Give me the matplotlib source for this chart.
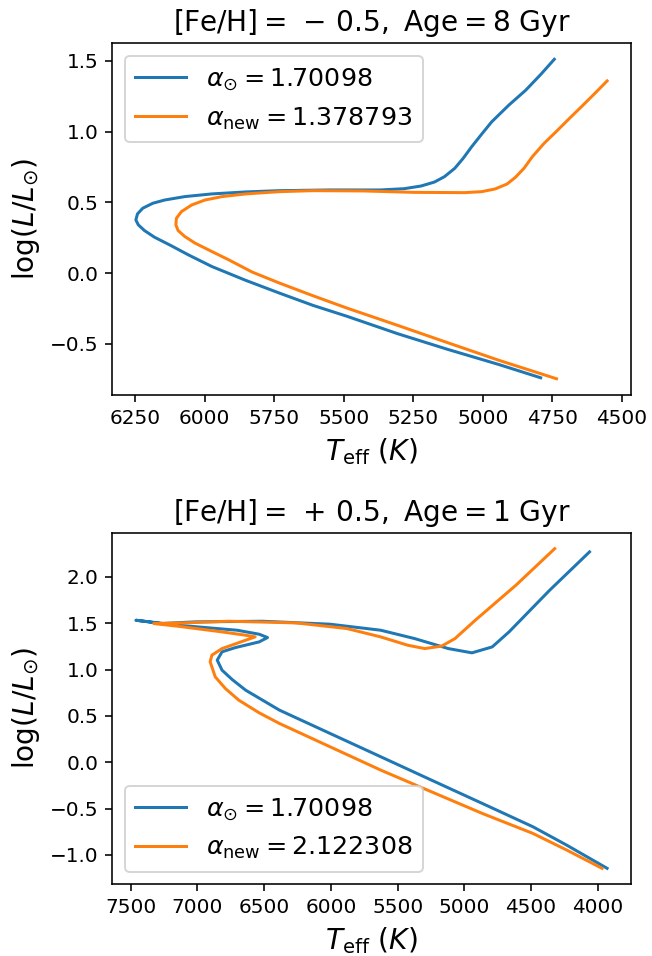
import matplotlib
matplotlib.use("Agg")
import matplotlib.pyplot as plt
from matplotlib.ticker import MultipleLocator

# ---- data: top panel ([Fe/H] = -0.5, Age = 8 Gyr) ----
top_sun_teff = [4792, 4943, 5125, 5307, 5489, 5611, 5732, 5853, 5975, 6060, 6120, 6181,
                6217, 6239, 6248, 6242, 6223, 6187, 6144, 6072, 5975, 5853, 5732, 5550,
                5368, 5283, 5222, 5174, 5138, 5101, 5071, 5040, 5004, 4968, 4907, 4846,
                4792, 4743]
top_sun_logl = [-0.740, -0.646, -0.540, -0.428, -0.305, -0.228, -0.141, -0.051, 0.047,
                0.130, 0.193, 0.254, 0.301, 0.341, 0.376, 0.419, 0.459, 0.494, 0.517,
                0.541, 0.560, 0.574, 0.583, 0.588, 0.588, 0.597, 0.616, 0.644, 0.682,
                0.741, 0.811, 0.894, 0.983, 1.070, 1.187, 1.293, 1.404, 1.512]
top_new_teff = [4735, 4943, 5125, 5307, 5489, 5611, 5732, 5829, 5914, 5975, 6035, 6072,
                6096, 6104, 6102, 6084, 6047, 5999, 5938, 5853, 5732, 5611, 5429, 5247,
                5065, 5004, 4956, 4913, 4883, 4852, 4822, 4780, 4737, 4689, 4640, 4592,
                4553]
top_new_logl = [-0.747, -0.616, -0.493, -0.369, -0.247, -0.160, -0.070, 0.007, 0.094,
                0.153, 0.212, 0.259, 0.301, 0.341, 0.388, 0.435, 0.482, 0.517, 0.541,
                0.560, 0.576, 0.583, 0.581, 0.571, 0.569, 0.576, 0.595, 0.630, 0.677,
                0.741, 0.823, 0.917, 0.999, 1.093, 1.187, 1.281, 1.359]

# ---- data: bottom panel ([Fe/H] = +0.5, Age = 1 Gyr) ----
bot_sun_teff = [3930, 4234, 4487, 4867, 5247, 5627, 6006, 6386, 6513, 6639, 6740, 6816,
                6852, 6816, 6715, 6538, 6475, 6538, 6703, 7146, 7462, 7272, 7019, 6513,
                6006, 5627, 5373, 5120, 4943, 4791, 4665, 4361, 4062]
bot_sun_logl = [-1.144, -0.893, -0.695, -0.443, -0.192, 0.060, 0.311, 0.563, 0.671, 0.778,
                0.893, 0.994, 1.102, 1.192, 1.238, 1.299, 1.346, 1.382, 1.425, 1.479,
                1.533, 1.497, 1.515, 1.522, 1.490, 1.425, 1.335, 1.227, 1.181, 1.245,
                1.407, 1.856, 2.270]
bot_new_teff = [3968, 4234, 4487, 4867, 5247, 5627, 6006, 6386, 6538, 6690, 6791, 6867,
                6905, 6892, 6816, 6639, 6568, 6639, 6816, 7146, 7328, 7095, 6766, 6259,
                5880, 5627, 5424, 5297, 5171, 5070, 4918, 4614, 4323]
bot_new_logl = [-1.144, -0.946, -0.767, -0.551, -0.318, -0.084, 0.167, 0.419, 0.534, 0.670,
                0.796, 0.922, 1.084, 1.156, 1.227, 1.317, 1.353, 1.371, 1.407, 1.468,
                1.497, 1.504, 1.522, 1.504, 1.443, 1.353, 1.263, 1.227, 1.253, 1.335,
                1.533, 1.910, 2.305]

titles = [r'$\rm [Fe/H] = \,-\,0.5,\ Age = 8\ Gyr$', r'$\rm [Fe/H] = \,+\,0.5,\ Age = 1\ Gyr$']
sun_labels = [r'$\alpha_{\odot} = 1.70098$', r'$\alpha_{\odot} = 1.70098$']
new_labels = [r'$\alpha_{\rm new} = 1.378793$', r'$\alpha_{\rm new} = 2.122308$']

DPI = 144
fig = plt.figure(figsize=(652 / DPI, 956 / DPI), dpi=DPI)
ax1 = fig.add_axes([0.1722, 0.5871, 0.7951, 0.3676])
ax2 = fig.add_axes([0.1722, 0.0750, 0.7951, 0.3678])

panels = [
    (ax1, top_sun_teff, top_sun_logl, top_new_teff, top_new_logl, 'upper left', 250),
    (ax2, bot_sun_teff, bot_sun_logl, bot_new_teff, bot_new_logl, 'lower left', 500),
]

for i, (ax, st, sl, nt, nl, loc, step) in enumerate(panels):
    ax.plot(st, sl, color='#1f77b4', lw=1.5, label=sun_labels[i])
    ax.plot(nt, nl, color='#ff7f0e', lw=1.5, label=new_labels[i])
    ax.invert_xaxis()
    ax.xaxis.set_major_locator(MultipleLocator(step))
    ax.yaxis.set_major_locator(MultipleLocator(0.5))
    ax.tick_params(labelsize=10)
    ax.set_xlabel(r'$T_{\rm eff}\ (K)$', fontsize=14)
    ax.set_ylabel(r'$\log(L/L_{\odot})$', fontsize=14)
    ax.set_title(titles[i], fontsize=14)
    ax.legend(loc=loc, fontsize=12.7)

fig.savefig('out.png', dpi=DPI)
